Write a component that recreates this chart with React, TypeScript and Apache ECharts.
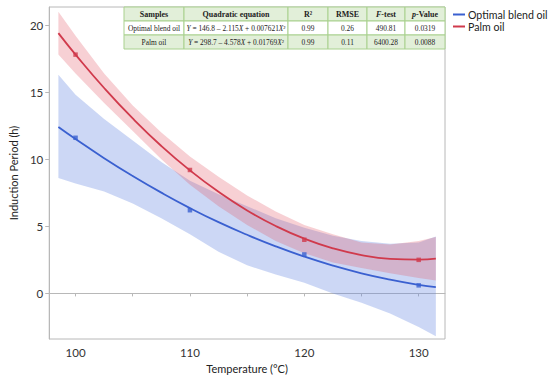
import React, { useEffect, useRef } from "react";
import * as echarts from "echarts";

// ---- data ----
const bandX = [98.5, 100, 102.5, 105, 107.5, 110, 112.5, 115, 117.5, 120, 122.5, 125, 127.5, 130, 131.5];
const blendFit = [12.41, 11.51, 10.08, 8.75, 7.51, 6.36, 5.31, 4.37, 3.51, 2.74, 2.07, 1.5, 1.03, 0.64, 0.46];
const blendUpper = [16.3, 14.8, 13.0, 11.4, 9.8, 8.4, 7.4, 6.5, 5.6, 4.9, 4.3, 3.9, 3.7, 3.8, 4.25];
const blendLower = [8.6, 8.2, 7.6, 6.7, 5.6, 4.4, 3.1, 2.1, 1.4, 0.8, 0.0, -0.7, -1.5, -2.5, -3.2];
const palmFit = [19.4, 17.8, 15.31, 13.04, 10.99, 9.17, 7.57, 6.18, 5.02, 4.08, 3.36, 2.86, 2.58, 2.52, 2.59];
const palmUpper = [21.0, 19.2, 16.4, 14.0, 12.0, 10.2, 8.7, 7.3, 6.1, 5.1, 4.4, 3.8, 3.65, 3.9, 4.2];
const palmLower = [17.8, 16.4, 14.2, 12.1, 10.0, 8.1, 6.5, 5.1, 3.9, 3.0, 2.3, 1.9, 1.5, 1.15, 0.97];

const obsTemps = [100, 110, 120, 130];
const blendObs = [11.6, 6.2, 2.9, 0.6];
const palmObs = [17.8, 9.2, 4.0, 2.5];

const xTickValues = [100, 110, 120, 130];
const xMinorTickValues = [100, 105, 110, 115, 120, 125, 130];
const yTickValues = [0, 5, 10, 15, 20];

const seriesNames = ["Optimal blend oil", "Palm oil"];

const tableHeaders = ["Samples", "Quadratic equation", "R²", "RMSE", "{i|F}-test", "{i|p}-Value"];
const tableSamples = ["Optimal blend oil", "Palm oil"];
const tableEquations = [
  "{i|Y} = 146.8 – 2.115{i|X} + 0.007621{i|X}²",
  "{i|Y} = 298.7 – 4.578{i|X} + 0.01769{i|X}²",
];
const tableR2 = ["0.99", "0.99"];
const tableRMSE = ["0.26", "0.11"];
const tableF = ["490.81", "6400.28"];
const tableP = ["0.0319", "0.0088"];

const BLUE = "#3a60d0";
const RED = "#d03a4c";
const FONT = "Lato, 'Open Sans', sans-serif";
const SERIF = "'Liberation Serif', 'DejaVu Serif', serif";

function bandSeries(upper: number[], lower: number[], fill: string) {
  return {
    type: "custom",
    silent: true,
    z: 1,
    data: [[bandX[0], upper[0]]],
    renderItem: (_p: any, api: any) => {
      const pts: number[][] = [];
      for (let i = 0; i < bandX.length; i++) pts.push(api.coord([bandX[i], upper[i]]));
      for (let i = bandX.length - 1; i >= 0; i--) pts.push(api.coord([bandX[i], lower[i]]));
      return { type: "polygon", shape: { points: pts }, style: { fill, stroke: "none" } };
    },
  };
}

function buildTable() {
  const colW = [60, 104, 40, 39, 38, 40];
  const rowH = 14;
  const left = 124;
  const top = 7;
  const rows = [
    tableHeaders,
    [tableSamples[0], tableEquations[0], tableR2[0], tableRMSE[0], tableF[0], tableP[0]],
    [tableSamples[1], tableEquations[1], tableR2[1], tableRMSE[1], tableF[1], tableP[1]],
  ];
  const fills = ["#e2efd9", "#ffffff", "#e2efd9"];
  const children: any[] = [];
  rows.forEach((row, r) => {
    let x = left;
    row.forEach((cell, c) => {
      const fs = r === 0 ? 8 : 7.4;
      children.push({
        type: "rect",
        shape: { x, y: top + r * rowH, width: colW[c], height: rowH },
        style: { fill: fills[r], stroke: "#a9d18e", lineWidth: 1 },
      });
      children.push({
        type: "text",
        x: x + colW[c] / 2,
        y: top + r * rowH + rowH / 2 + 0.5,
        style: {
          text: cell,
          align: "center",
          verticalAlign: "middle",
          fontFamily: SERIF,
          fontSize: fs,
          fontWeight: r === 0 ? "bold" : "normal",
          fill: "#222",
          rich: {
            i: {
              fontStyle: "italic",
              fontFamily: SERIF,
              fontSize: fs,
              fontWeight: r === 0 ? "bold" : "normal",
              fill: "#222",
            },
          },
        },
      });
      x += colW[c];
    });
  });
  return { type: "group", z: 100, children };
}

export default function App() {
  const ref = useRef<HTMLDivElement>(null);
  useEffect(() => {
    if (!ref.current) return;
    const chart = echarts.init(ref.current, null, { renderer: "svg" });
    const lineData = (ys: number[]) => bandX.map((x, i) => [x, ys[i]]);
    const obsData = (ys: number[]) => obsTemps.map((x, i) => [x, ys[i]]);
    chart.setOption({
      animation: false,
      backgroundColor: "#ffffff",
      textStyle: { fontFamily: FONT },
      grid: { left: 40, right: 105, top: 7, bottom: 39, show: true, borderColor: "#b8b8b8", borderWidth: 1 },
      legend: {
        data: seriesNames.map((n) => ({ name: n, icon: "rect" })),
        orient: "vertical",
        left: 453,
        top: 9,
        itemWidth: 12,
        itemHeight: 2,
        itemGap: 1,
        padding: 0,
        textStyle: { fontSize: 10.6, lineHeight: 11, color: "#222", fontFamily: FONT, padding: [0, 0, 0, -2] },
      },
      xAxis: {
        type: "value",
        min: 97.7,
        max: 132.3,
        name: "Temperature (°C)",
        nameLocation: "middle",
        nameGap: 24,
        nameTextStyle: { fontSize: 11, color: "#222", fontFamily: FONT },
        axisLine: { show: true, lineStyle: { color: "#b8b8b8" } },
        axisTick: { show: true, customValues: xMinorTickValues, length: 3, lineStyle: { color: "#b8b8b8" } },
        axisLabel: { customValues: xTickValues, fontSize: 11.5, color: "#333", margin: 7, fontFamily: FONT },
        splitLine: { show: false },
      },
      yAxis: {
        type: "value",
        min: -3.4,
        max: 21.35,
        name: "Induction Period (h)",
        nameLocation: "middle",
        nameGap: 22,
        nameTextStyle: { fontSize: 11, color: "#222", fontFamily: FONT },
        axisLine: { show: true, lineStyle: { color: "#b8b8b8" } },
        axisTick: { show: true, customValues: yTickValues, length: 4, lineStyle: { color: "#b8b8b8" } },
        axisLabel: { customValues: yTickValues, fontSize: 11.5, color: "#333", margin: 6, fontFamily: FONT },
        splitLine: { show: false },
      },
      series: [
        bandSeries(blendUpper, blendLower, "rgba(100,135,225,0.33)"),
        bandSeries(palmUpper, palmLower, "rgba(225,80,95,0.27)"),
        {
          name: seriesNames[0],
          type: "line",
          data: lineData(blendFit),
          smooth: true,
          showSymbol: false,
          lineStyle: { color: BLUE, width: 1.8 },
          itemStyle: { color: BLUE },
          z: 3,
        },
        {
          name: seriesNames[1],
          type: "line",
          data: lineData(palmFit),
          smooth: true,
          showSymbol: false,
          lineStyle: { color: RED, width: 1.8 },
          itemStyle: { color: RED },
          z: 3,
        },
        {
          name: "blend-obs",
          type: "scatter",
          data: obsData(blendObs),
          symbol: "rect",
          symbolSize: 4.5,
          itemStyle: { color: BLUE },
          z: 4,
        },
        {
          name: "palm-obs",
          type: "scatter",
          data: obsData(palmObs),
          symbol: "rect",
          symbolSize: 4.5,
          itemStyle: { color: RED },
          z: 4,
        },
      ],
      graphic: [buildTable()],
    });
    return () => chart.dispose();
  }, []);
  return <div ref={ref} style={{ width: 550, height: 379, position: "absolute", left: 0, top: 0 }} />;
}
